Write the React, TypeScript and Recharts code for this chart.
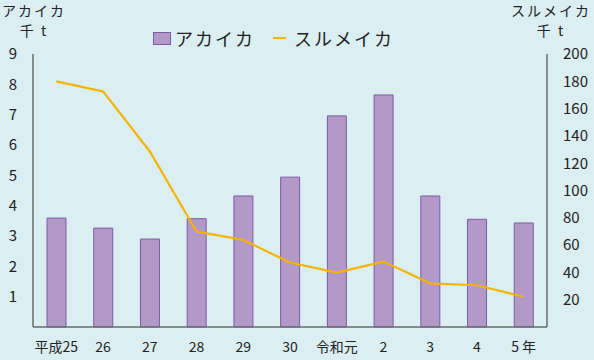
import { ComposedChart, Bar, Line, XAxis, YAxis } from 'recharts';

const years = ['平成25', '26', '27', '28', '29', '30', '令和元', '2', '3', '4', '5 年'];
const akaika = [3.59, 3.26, 2.9, 3.57, 4.32, 4.94, 6.96, 7.65, 4.32, 3.55, 3.43];
const surumeika = [180, 172.6, 128.6, 69.9, 63.8, 47.2, 39.8, 47.9, 32.0, 30.6, 22.2];
const leftTicks = [1, 2, 3, 4, 5, 6, 7, 8, 9];
const rightTicks = [20, 40, 60, 80, 100, 120, 140, 160, 180, 200];

const data = years.map((year, i) => ({ year, akaika: akaika[i], surumeika: surumeika[i] }));

const FONT = '"Noto Sans CJK JP", "Noto Sans", sans-serif';
const BG = '#dbeef2';
const BAR_FILL = '#b399c8';
const BAR_STROKE = '#7f5aa8';
const LINE = '#f5b400';
const AXIS = '#6b6b6b';
const TEXT = '#222';

const titleStyle: React.CSSProperties = {
  position: 'absolute', fontFamily: FONT, fontSize: 14, color: TEXT, lineHeight: '18px', textAlign: 'center',
  letterSpacing: 2, whiteSpace: 'nowrap',
};

export default function App() {
  return (
    <div style={{ position: 'absolute', left: 0, top: 0, width: 594, height: 360, background: BG }}>
      <div style={{ ...titleStyle, left: 2, top: 1, width: 64 }}>アカイカ</div>
      <div style={{ ...titleStyle, left: 2, top: 21, width: 64 }}>千 t</div>
      <div style={{ ...titleStyle, right: 0, top: 1, width: 86 }}>スルメイカ</div>
      <div style={{ ...titleStyle, right: 0, top: 21, width: 86 }}>千 t</div>
      {/* legend */}
      <div style={{ position: 'absolute', left: 153, top: 25, display: 'flex', alignItems: 'center', fontFamily: FONT, fontSize: 18, color: TEXT }}>
        <span style={{ display: 'inline-block', width: 16, height: 11, background: BAR_FILL, border: `1px solid ${BAR_STROKE}`, marginRight: 4 }} />
        <span style={{ letterSpacing: 2 }}>アカイカ</span>
        <span style={{ display: 'inline-block', width: 13, height: 2, background: LINE, marginLeft: 18, marginRight: 8 }} />
        <span style={{ letterSpacing: 2 }}>スルメイカ</span>
      </div>
      <ComposedChart width={594} height={360} data={data} margin={{ top: 54, right: 0, bottom: 0, left: 0 }}>
        <XAxis
          dataKey="year"
          axisLine={{ stroke: AXIS, strokeWidth: 1.5 }}
          tickLine={false}
          tickMargin={9}
          tick={{ fill: TEXT, fontSize: 14, fontFamily: FONT }}
          interval={0}
          height={33}
        />
        <XAxis xAxisId="top" orientation="top" dataKey="year" tick={false} tickLine={false} axisLine={{ stroke: AXIS, strokeWidth: 1.5 }} height={0} />
        <YAxis
          yAxisId="left"
          domain={[0, 9]}
          ticks={leftTicks}
          interval={0}
          width={33}
          axisLine={{ stroke: AXIS, strokeWidth: 1.5 }}
          tickLine={false}
          tickMargin={10}
          tick={{ fill: TEXT, fontSize: 15, fontFamily: FONT }}
        />
        <YAxis
          yAxisId="right"
          orientation="right"
          domain={[0, 200]}
          ticks={rightTicks}
          interval={0}
          width={47}
          axisLine={{ stroke: AXIS, strokeWidth: 1.5 }}
          tickLine={false}
          tickMargin={10}
          tick={{ fill: TEXT, fontSize: 15, fontFamily: FONT }}
        />
        <Bar yAxisId="left" dataKey="akaika" fill={BAR_FILL} stroke={BAR_STROKE} strokeWidth={1} barSize={19} isAnimationActive={false} />
        <Line yAxisId="right" dataKey="surumeika" stroke={LINE} strokeWidth={2.2} dot={false} type="linear" isAnimationActive={false} />
      </ComposedChart>
    </div>
  );
}
